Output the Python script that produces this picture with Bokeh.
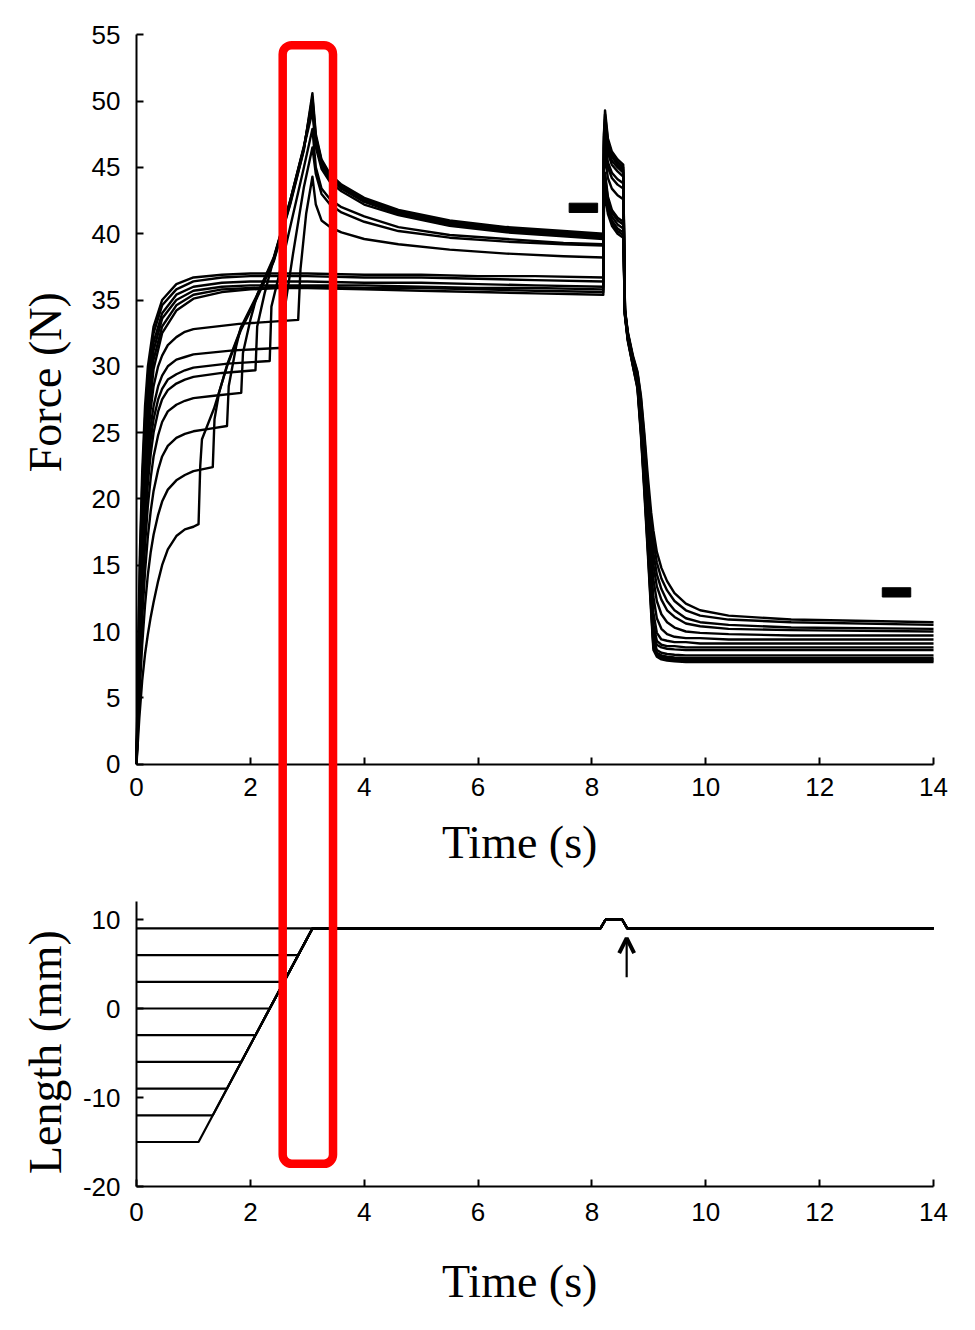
import math
from bokeh.plotting import figure
from bokeh.models import (Range1d, LinearAxis, FixedTicker, BoxAnnotation, Label,
                          Arrow, OpenHead, ColumnDataSource)
from bokeh.embed import file_html
from bokeh.resources import INLINE

# ---------------- data ----------------
TIME_TICKS = [0, 2, 4, 6, 8, 10, 12, 14]
FORCE_TICKS = [0, 5, 10, 15, 20, 25, 30, 35, 40, 45, 50, 55]
LENGTH_TICKS = [-20, -10, 0, 10]
LENGTH_TICK_LABELS = {-20: "-20", -10: "-10", 0: "0", 10: "10"}

# isometric contractions at the final length (force, N)
ISO_T = [0, 0.03, 0.06, 0.1, 0.15, 0.2, 0.3, 0.45, 0.7, 1.0, 1.5, 2.0, 2.5, 3.0, 4.0, 5.0, 6.0, 7.0, 8.2]
ISO_F = [
    [0, 9.0, 16.0, 22.0, 27.0, 30.0, 33.0, 35.0, 36.2, 36.7, 36.9, 37.0, 37.0, 37.0, 36.9, 36.9, 36.8, 36.8, 36.7],
    [0, 8.0, 15.0, 21.0, 26.0, 29.3, 32.5, 34.6, 35.8, 36.4, 36.7, 36.8, 36.8, 36.8, 36.7, 36.7, 36.6, 36.5, 36.4],
    [0, 7.0, 13.0, 19.0, 24.5, 28.3, 31.8, 34.0, 35.4, 36.0, 36.3, 36.4, 36.4, 36.4, 36.3, 36.3, 36.2, 36.1, 36.0],
    [0, 6.0, 12.0, 18.0, 23.5, 27.5, 31.2, 33.6, 35.0, 35.7, 36.0, 36.1, 36.1, 36.1, 36.1, 36.0, 35.9, 35.9, 35.8],
    [0, 5.5, 11.0, 17.0, 22.5, 26.5, 30.5, 33.0, 34.6, 35.4, 35.8, 35.9, 36.0, 36.0, 35.9, 35.9, 35.8, 35.7, 35.6],
    [0, 5.0, 10.0, 16.0, 21.5, 25.5, 29.8, 32.5, 34.2, 35.1, 35.6, 35.8, 35.9, 35.9, 35.8, 35.7, 35.6, 35.5, 35.4],
]

# stretch contractions, starting lengths -15 ... 6 mm
PRE_T = [0, 0.05, 0.1, 0.15, 0.2, 0.25, 0.3, 0.38, 0.45, 0.55, 0.7, 0.85, 1.0]
PRE_F = [
    [0, 3.5, 6.3, 8.3, 9.8, 11.1, 12.2, 13.8, 15.0, 16.2, 17.2, 17.7, 17.9],
    [0, 5.0, 9.0, 12.0, 14.3, 16.0, 17.3, 18.8, 19.8, 20.7, 21.4, 21.8, 22.1],
    [0, 6.0, 11.0, 14.5, 17.2, 19.1, 20.6, 22.2, 23.2, 24.0, 24.6, 24.9, 25.1],
    [0, 7.0, 12.5, 16.5, 19.5, 21.6, 23.2, 24.8, 25.8, 26.6, 27.1, 27.4, 27.6],
    [0, 7.5, 13.5, 18.0, 21.2, 23.4, 25.0, 26.6, 27.5, 28.2, 28.7, 29.0, 29.2],
    [0, 8.0, 14.5, 19.0, 22.3, 24.5, 26.0, 27.5, 28.3, 29.0, 29.4, 29.7, 29.9],
    [0, 8.5, 15.0, 20.0, 23.3, 25.5, 27.0, 28.5, 29.3, 30.0, 30.5, 30.7, 30.9],
    [0, 9.0, 16.0, 21.0, 24.5, 26.8, 28.5, 30.0, 30.8, 31.6, 32.2, 32.6, 32.8],
]
RAMP_T = [
    [1.09, 1.12, 1.15, 1.36, 1.59, 1.83, 2.12, 2.41, 2.70, 2.94, 3.09],
    [1.34, 1.37, 1.45, 1.59, 1.83, 2.12, 2.41, 2.70, 2.94, 3.09],
    [1.3, 1.59, 1.62, 1.75, 1.83, 2.12, 2.41, 2.70, 2.94, 3.09],
    [1.4, 1.84, 1.87, 2.0, 2.12, 2.41, 2.70, 2.94, 3.09],
    [1.5, 2.09, 2.12, 2.25, 2.41, 2.70, 2.94, 3.09],
    [1.6, 2.34, 2.37, 2.5, 2.70, 2.94, 3.09],
    [1.7, 2.59, 2.62, 2.75, 2.94, 3.09],
    [1.8, 2.84, 2.88, 2.98, 3.09],
]
RAMP_F = [
    [18.1, 22.5, 24.5, 26.8, 30.0, 32.7, 35.2, 37.9, 42.2, 46.3, 50.6],
    [22.4, 26.0, 28.0, 30.1, 32.8, 35.3, 38.0, 42.3, 46.4, 50.3],
    [25.3, 25.5, 28.5, 31.5, 32.9, 35.4, 38.1, 42.4, 46.5, 50.0],
    [27.8, 28.0, 31.0, 33.5, 35.4, 38.2, 42.5, 46.6, 49.6],
    [29.5, 29.7, 33.0, 35.5, 38.1, 42.5, 46.5, 49.2],
    [30.2, 30.4, 34.5, 36.8, 40.5, 45.0, 47.9],
    [31.2, 31.4, 34.8, 38.5, 43.5, 46.5],
    [33.2, 33.5, 37.3, 41.5, 44.3],
]
DECAY_T = [3.15, 3.25, 3.4, 3.6, 4.0, 4.6, 5.5, 6.5, 7.5, 8.2]
DECAY_F = [
    [47.5, 45.6, 44.5, 43.7, 42.7, 41.8, 41.0, 40.5, 40.2, 40.0],
    [47.3, 45.5, 44.4, 43.6, 42.6, 41.7, 40.9, 40.4, 40.1, 39.9],
    [47.0, 45.3, 44.2, 43.5, 42.5, 41.6, 40.8, 40.3, 40.0, 39.8],
    [46.8, 45.1, 44.1, 43.4, 42.4, 41.5, 40.7, 40.2, 39.9, 39.7],
    [46.5, 44.9, 43.9, 43.2, 42.2, 41.4, 40.6, 40.1, 39.8, 39.6],
    [45.0, 43.4, 42.6, 42.0, 41.3, 40.5, 39.9, 39.6, 39.3, 39.2],
    [44.5, 43.0, 42.2, 41.6, 40.9, 40.2, 39.7, 39.4, 39.2, 39.1],
    [42.2, 41.0, 40.5, 40.1, 39.6, 39.2, 38.8, 38.5, 38.3, 38.2],
]

# quick stretch-release at 8.2 s
SPIKE_T = [8.21, 8.23, 8.28, 8.35, 8.45, 8.55]
SPIKE_ISO_F = [
    [43.0, 44.6, 42.8, 41.8, 41.2, 40.9],
    [42.8, 44.3, 42.6, 41.6, 41.0, 40.7],
    [42.6, 44.0, 42.3, 41.3, 40.7, 40.4],
    [42.3, 43.7, 42.0, 41.0, 40.4, 40.1],
    [42.0, 43.4, 41.7, 40.8, 40.2, 39.9],
    [41.8, 43.0, 41.5, 40.6, 40.0, 39.7],
]
SPIKE_STR_F = [
    [47.5, 49.3, 47.2, 46.2, 45.6, 45.2],
    [47.3, 49.0, 47.0, 46.0, 45.4, 45.0],
    [47.0, 48.6, 46.7, 45.8, 45.2, 44.8],
    [46.7, 48.2, 46.4, 45.5, 45.0, 44.6],
    [46.4, 47.8, 46.1, 45.2, 44.7, 44.3],
    [45.8, 47.0, 45.4, 44.6, 44.1, 43.8],
    [45.5, 46.6, 45.0, 44.2, 43.7, 43.4],
    [44.8, 45.8, 44.2, 43.4, 42.9, 42.6],
]

# relaxation
RELAX_T = [8.58, 8.63, 8.72, 8.8, 8.86, 8.92, 8.98, 9.04, 9.08, 9.14, 9.22, 9.32, 9.45, 9.65, 9.9, 10.4, 11.5, 14]
RELAX_ISO_F = [
    [34.0, 32.2, 30.3, 28.8, 25.8, 21.8, 17.5, 13.0, 9.9, 9.0, 8.8, 8.7, 8.65, 8.6, 8.6, 8.6, 8.6, 8.6],
    [34.0, 32.1, 30.2, 28.7, 25.6, 21.5, 17.2, 12.6, 9.5, 8.6, 8.4, 8.3, 8.25, 8.2, 8.2, 8.2, 8.2, 8.2],
    [33.9, 32.1, 30.2, 28.6, 25.4, 21.3, 16.9, 12.3, 9.2, 8.4, 8.2, 8.1, 8.05, 8.0, 8.0, 8.0, 8.0, 8.0],
    [33.9, 32.0, 30.1, 28.5, 25.2, 21.0, 16.6, 12.0, 9.0, 8.3, 8.1, 8.0, 7.95, 7.9, 7.9, 7.9, 7.9, 7.9],
    [33.8, 32.0, 30.0, 28.4, 25.0, 20.8, 16.3, 11.7, 8.8, 8.2, 8.0, 7.9, 7.85, 7.8, 7.8, 7.8, 7.8, 7.8],
    [33.8, 31.9, 30.0, 28.3, 24.8, 20.5, 16.0, 11.4, 8.6, 8.1, 7.9, 7.8, 7.75, 7.7, 7.7, 7.7, 7.7, 7.7],
]
RELAX_STR_F = [
    [34.3, 32.6, 30.8, 29.6, 27.8, 25.0, 21.8, 19.0, 17.6, 16.0, 14.8, 13.8, 12.9, 12.1, 11.6, 11.2, 10.9, 10.7],
    [34.3, 32.5, 30.7, 29.5, 27.6, 24.6, 21.2, 18.3, 16.8, 15.2, 14.0, 13.1, 12.3, 11.6, 11.2, 10.9, 10.7, 10.5],
    [34.2, 32.5, 30.6, 29.4, 27.3, 24.2, 20.6, 17.5, 15.9, 14.3, 13.2, 12.3, 11.6, 11.0, 10.7, 10.5, 10.3, 10.2],
    [34.2, 32.4, 30.6, 29.3, 27.0, 23.8, 20.0, 16.8, 15.0, 13.4, 12.4, 11.6, 11.1, 10.6, 10.4, 10.2, 10.1, 10.0],
    [34.1, 32.4, 30.5, 29.2, 26.8, 23.3, 19.4, 15.8, 13.9, 12.3, 11.3, 10.7, 10.3, 10.0, 9.9, 9.8, 9.7, 9.7],
    [34.1, 32.3, 30.5, 29.1, 26.5, 22.8, 18.8, 14.8, 12.6, 11.0, 10.2, 9.8, 9.6, 9.5, 9.5, 9.4, 9.4, 9.4],
    [34.0, 32.3, 30.4, 29.0, 26.2, 22.4, 18.2, 14.0, 11.4, 9.9, 9.4, 9.3, 9.2, 9.2, 9.1, 9.1, 9.1, 9.1],
    [34.0, 32.2, 30.4, 28.9, 26.0, 22.1, 17.8, 13.5, 10.5, 9.3, 9.0, 8.9, 8.9, 8.8, 8.8, 8.8, 8.8, 8.8],
]

# measurement-window markers (black bars)
MARK_T0 = [7.6, 13.1]
MARK_T1 = [8.1, 13.6]
MARK_F0 = [41.6, 12.6]
MARK_F1 = [42.3, 13.3]

# length traces (mm)
LEN_LEVELS = [-15, -12, -9, -6, -3, 0, 3, 6]
LEN_RAMP_START = [1.09, 1.34, 1.59, 1.84, 2.09, 2.34, 2.59, 2.84]
LEN_RAMP_END_T = 3.09
LEN_FINAL = 9
PULSE_T = [8.15, 8.24, 8.53, 8.62]
PULSE_L = [9, 10, 10, 9]
END_T = 14

# ---------------- layout (pixel geometry of the page) ----------------
W, H = 959, 1314
X0_PX, PX_PER_S = 136.0, 56.93          # t = 0 position and scale
F0_PX, PX_PER_N = 763.6, 13.26          # force = 0 position and scale
L0_PX, PX_PER_MM = 1008.0, 8.9          # length = 0 position and scale

x_range = Range1d(-X0_PX / PX_PER_S, (W - X0_PX) / PX_PER_S)
y_force = Range1d((F0_PX - H) / PX_PER_N, F0_PX / PX_PER_N)
y_len = Range1d((L0_PX - H) / PX_PER_MM, L0_PX / PX_PER_MM)

p = figure(width=W, height=H, output_backend="svg", toolbar_location=None,
           x_range=x_range, y_range=y_force,
           x_axis_location=None, y_axis_location=None,
           min_border_left=0, min_border_right=0, min_border_top=0, min_border_bottom=0)
p.extra_y_ranges = {"len": y_len}
p.outline_line_color = None
p.grid.visible = False
p.background_fill_color = "white"
p.border_fill_color = "white"


def style(ax, ticks, size, standoff):
    ax.ticker = FixedTicker(ticks=ticks)
    ax.axis_line_color = "black"
    ax.axis_line_width = 2
    ax.major_tick_line_color = "black"
    ax.major_tick_line_width = 2
    ax.major_tick_in = 7
    ax.major_tick_out = 0
    ax.minor_tick_in = 0
    ax.minor_tick_out = 0
    ax.major_label_text_font = "Liberation Sans"
    ax.major_label_text_font_size = size
    ax.major_label_text_color = "black"
    ax.major_label_standoff = standoff


ax_force = LinearAxis(fixed_location=0, bounds=(0, 55))
style(ax_force, FORCE_TICKS, "26px", 16)
p.add_layout(ax_force, "left")

ax_len = LinearAxis(y_range_name="len", fixed_location=0, bounds=(-20, 12))
style(ax_len, LENGTH_TICKS, "26px", 16)
ax_len.major_label_overrides = LENGTH_TICK_LABELS
p.add_layout(ax_len, "left")

ax_t1 = LinearAxis(fixed_location=0, bounds=(0, 14))
style(ax_t1, TIME_TICKS, "26px", 14)
p.add_layout(ax_t1, "below")

ax_t2 = LinearAxis(y_range_name="len", fixed_location=-20, bounds=(0, 14))
style(ax_t2, TIME_TICKS, "26px", 16)
p.add_layout(ax_t2, "below")

# force traces
xs, ys = [], []
for f_rise, f_sp, f_rel in zip(ISO_F, SPIKE_ISO_F, RELAX_ISO_F):
    xs.append(ISO_T + SPIKE_T + RELAX_T)
    ys.append(f_rise + f_sp + f_rel)
for i in range(len(PRE_F)):
    xs.append(PRE_T + RAMP_T[i] + DECAY_T + SPIKE_T + RELAX_T)
    ys.append(PRE_F[i] + RAMP_F[i] + DECAY_F[i] + SPIKE_STR_F[i] + RELAX_STR_F[i])
p.multi_line(xs="xs", ys="ys", source=ColumnDataSource(dict(xs=xs, ys=ys)),
             line_color="black", line_width=2.4, line_join="round")

p.quad(left=MARK_T0, right=MARK_T1, bottom=MARK_F0, top=MARK_F1,
       fill_color="black", line_color="black")

# length traces
lx, ly = [], []
for lev, ts in zip(LEN_LEVELS, LEN_RAMP_START):
    lx.append([0, ts, LEN_RAMP_END_T] + PULSE_T + [END_T])
    ly.append([lev, lev, LEN_FINAL] + PULSE_L + [LEN_FINAL])
lx.append([0] + PULSE_T + [END_T])
ly.append([LEN_FINAL] + PULSE_L + [LEN_FINAL])
p.multi_line(xs="xs", ys="ys", source=ColumnDataSource(dict(xs=lx, ys=ly)),
             y_range_name="len", line_color="black", line_width=2.2)

p.add_layout(Arrow(end=OpenHead(size=15, line_width=4, line_color="black"),
                   x_start=8.61, y_start=3.5, x_end=8.61, y_end=7.9,
                   y_range_name="len", line_width=2.2, line_color="black"))

# axis titles
serif = "Liberation Serif"
p.add_layout(Label(x=-1.6, y=28.8, text="Force (N)", angle=math.pi / 2,
                   text_font=serif, text_font_size="46px", text_align="center",
                   text_baseline="middle", text_color="black"))
p.add_layout(Label(x=-1.6, y=-4.9, y_range_name="len", text="Length (mm)", angle=math.pi / 2,
                   text_font=serif, text_font_size="46px", text_align="center",
                   text_baseline="middle", text_color="black"))
p.add_layout(Label(x=6.73, y=-5.9, text="Time (s)", text_font=serif, text_font_size="46px",
                   text_align="center", text_baseline="middle", text_color="black"))
p.add_layout(Label(x=6.73, y=-30.7, y_range_name="len", text="Time (s)", text_font=serif,
                   text_font_size="46px", text_align="center", text_baseline="middle",
                   text_color="black"))

# red highlight box
p.add_layout(BoxAnnotation(left=2.568, right=3.452, top=54.22, bottom=-30.14,
                           fill_alpha=0, line_color="#ff0000", line_width=8.5,
                           line_alpha=1, border_radius=9))

open("out.html", "w").write(file_html(p, INLINE))
